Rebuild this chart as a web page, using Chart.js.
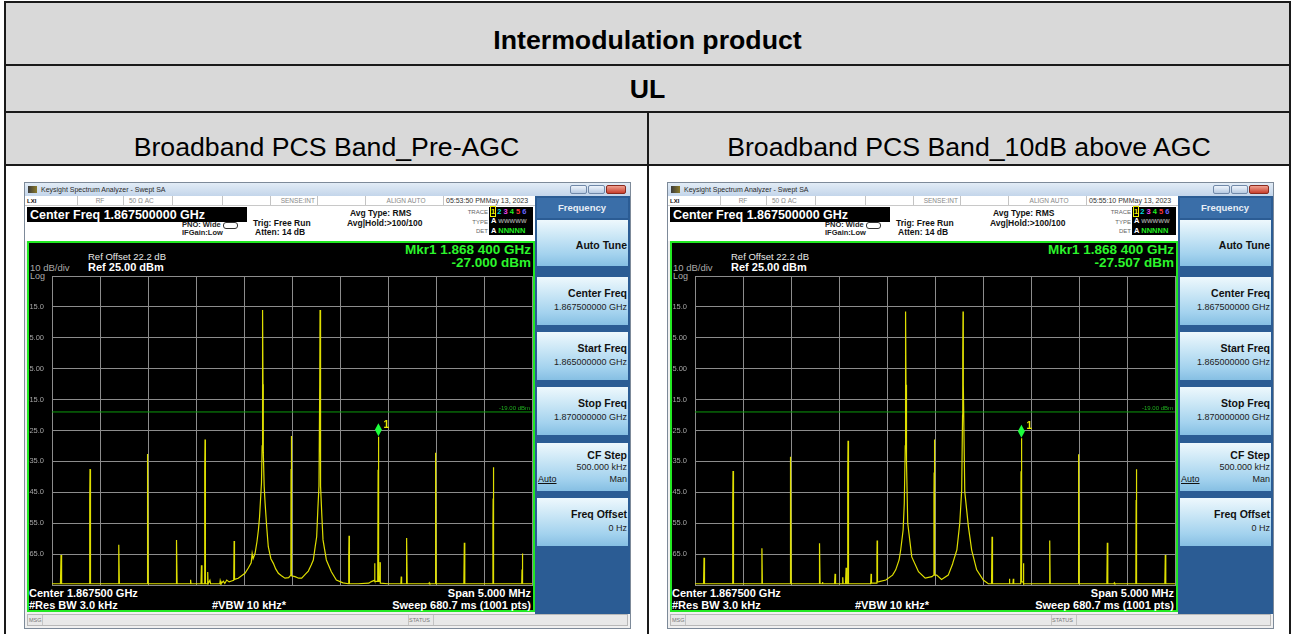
<!DOCTYPE html>
<html>
<head>
<meta charset="utf-8">
<title>Intermodulation product</title>
<script src="https://cdn.jsdelivr.net/npm/chart.js@4.4.1/dist/chart.umd.min.js"></script>
<style>
  body { margin: 0; width: 1295px; height: 634px; overflow: hidden; background: #fff; position: relative;
         font-family: "Liberation Sans", Arial, sans-serif; }
  .abs { position: absolute; white-space: nowrap; }
  .shade { position: absolute; background: #d9d9d9; }
  .rule { position: absolute; background: #1a1a1a; }
  .head { position: absolute; text-align: center; font-size: 26.7px; line-height: 30px; color: #000; }
  .sa { position: absolute; top: 183px; width: 605px; height: 445px; background: #f0f0f0; overflow: hidden;
        box-shadow: 0 0 0 1px #7d8a99; }
  .titlebar { left: 0; top: 0; width: 605px; height: 13px; background: linear-gradient(#e2ecf6, #c3d5ea); }
  .winbtn { top: 2px; height: 9px; border: 1px solid #7088a8; border-radius: 2px; box-sizing: border-box;
            background: linear-gradient(#eef4fb, #b7cae2); }
  .status { left: 0; top: 13px; width: 510px; height: 10px; background: #fff; border-bottom: 1px solid #c8c8c8; box-sizing: border-box; }
  .sep { position: absolute; top: 0; width: 1px; height: 9px; background: #c4c4c4; }
  .info { left: 0; top: 23px; width: 510px; height: 35px; background: #fff; }
  .display { left: 2px; top: 58px; width: 508px; height: 371px; background: #000; border: 2px solid #22e822; box-sizing: border-box; }
  .panel { left: 510px; top: 13px; width: 95px; height: 418px; background: #2b5c94; }
  .key { position: absolute; left: 2px; width: 91px;
         background: linear-gradient(#eef8fd 0%, #cbe7f6 35%, #a3d2ee 75%, #86bfe3 100%); }
  .msgbar { left: 2px; top: 431px; width: 601px; height: 12px; background: #e8e8e8; border: 1px solid #b8b8b8; box-sizing: border-box; }
  canvas { position: absolute; }
</style>
</head>
<body>
<script>
"use strict";

// table headings
const tableTitle = "Intermodulation product";
const linkTitle = "UL";
const panelTitles = ["Broadband PCS Band_Pre-AGC", "Broadband PCS Band_10dB above AGC"];
const timeStamps = ["05:53:50 PM", "05:55:10 PM"];
const dateStamp = "May 13, 2023";

// analyzer settings (MHz / dBm)
const startFreq = 1865.0;
const stopFreq = 1870.0;
const freqStep = 0.5;
const refLevel = 25;
const bottomLevel = -75;
const levelStep = 10;
const displayLine = -19;
const markerFreq = 1868.4;
const markerLevels = [-27.000, -27.507];
const markerTexts = ["-27.000 dBm", "-27.507 dBm"];

const yTickValues = [15, 5, -5, -15, -25, -35, -45, -55, -65];
const yTickLabels = ["15.0", "5.00", "-5.00", "-15.0", "-25.0", "-35.0", "-45.0", "-55.0", "-65.0"];

// trace 1, Pre-AGC
const preAgcFreq = [
  1865.000, 1865.088, 1865.094, 1865.100, 1865.388, 1865.393, 1865.396, 1865.401,
  1865.690, 1865.694, 1865.697, 1865.702, 1865.990, 1865.994, 1865.997, 1866.002,
  1866.292, 1866.296, 1866.298, 1866.303, 1866.440, 1866.444, 1866.448,
  1866.552, 1866.557, 1866.562, 1866.588, 1866.591, 1866.594, 1866.598,
  1866.618, 1866.622, 1866.626, 1866.645, 1866.652, 1866.748, 1866.752, 1866.760,
  1866.785, 1866.800, 1866.820, 1866.845, 1866.870, 1866.893, 1866.897, 1866.901,
  1866.940, 1866.975, 1867.010, 1867.045, 1867.075, 1867.085, 1867.095, 1867.115,
  1867.135, 1867.150, 1867.162, 1867.172, 1867.182, 1867.189, 1867.192, 1867.195,
  1867.198, 1867.201, 1867.210, 1867.220, 1867.236, 1867.253, 1867.280, 1867.306,
  1867.330, 1867.358, 1867.390, 1867.427, 1867.465, 1867.488, 1867.490, 1867.493,
  1867.496, 1867.531, 1867.570, 1867.601, 1867.640, 1867.670, 1867.700, 1867.722,
  1867.742, 1867.757, 1867.770, 1867.781, 1867.789, 1867.792, 1867.795, 1867.800,
  1867.810, 1867.823, 1867.858, 1867.910, 1867.962, 1868.031, 1868.088, 1868.091,
  1868.094, 1868.098, 1868.188, 1868.300, 1868.326, 1868.358, 1868.361, 1868.364,
  1868.393, 1868.397, 1868.400, 1868.404, 1868.414, 1868.417, 1868.420, 1868.500,
  1868.634, 1868.638, 1868.642, 1868.690, 1868.693, 1868.695, 1868.700,
  1868.925, 1868.930, 1868.935, 1868.993, 1868.995, 1868.997, 1869.002,
  1869.290, 1869.295, 1869.300, 1869.590, 1869.593, 1869.595, 1869.597, 1869.602,
  1869.893, 1869.896, 1869.899, 1869.904, 1870.000
];
const preAgcLevel = [
  -74.6, -74.6, -65.3, -74.6, -74.6, -47.6, -37.5, -74.6,
  -74.6, -70.0, -62.0, -74.6, -74.6, -53.0, -32.6, -74.6,
  -74.6, -68.0, -60.4, -74.6, -74.6, -73.3, -74.6,
  -74.6, -68.6, -74.6, -74.6, -38.0, -27.9, -74.6,
  -74.6, -70.8, -74.6, -73.5, -74.6, -74.6, -73.6, -74.6,
  -73.8, -74.5, -73.4, -74.0, -73.7, -73.5, -60.8, -73.2,
  -72.8, -72.0, -71.2, -69.5, -67.8, -64.8, -66.5, -64.8,
  -61.0, -57.2, -53.0, -47.5, -42.0, -30.0, 0.0, 14.0,
  -10.0, -32.0, -43.0, -48.6, -56.0, -62.6, -66.5, -68.0,
  -69.8, -71.2, -72.0, -72.8, -72.6, -71.8, -37.5, -26.8,
  -72.0, -72.3, -72.8, -72.8, -71.5, -70.5, -68.5, -66.9,
  -62.5, -59.4, -50.0, -43.0, -10.0, 14.0, -10.0, -43.0,
  -52.0, -60.4, -66.9, -70.7, -73.4, -74.3, -74.6, -66.0,
  -59.1, -74.6, -74.6, -74.4, -73.9, -73.5, -68.0, -73.8,
  -73.8, -37.7, -27.0, -73.8, -73.8, -67.6, -74.4, -74.6,
  -74.6, -72.3, -74.6, -74.6, -72.0, -59.8, -74.6,
  -74.6, -74.3, -74.6, -74.6, -52.4, -32.2, -74.6,
  -74.6, -61.3, -74.6, -74.6, -57.0, -47.0, -36.9, -74.6,
  -74.6, -70.0, -64.8, -74.6, -74.6
];

// trace 1, 10dB above AGC
const aboveAgcFreq = [
  1865.000, 1865.089, 1865.094, 1865.099, 1865.390, 1865.393, 1865.396, 1865.401,
  1865.692, 1865.697, 1865.702, 1865.990, 1865.993, 1865.995, 1865.997, 1866.002,
  1866.293, 1866.296, 1866.298, 1866.303, 1866.324, 1866.328, 1866.332,
  1866.454, 1866.459, 1866.464, 1866.535, 1866.539, 1866.543, 1866.568, 1866.574, 1866.578,
  1866.587, 1866.590, 1866.592, 1866.594, 1866.599, 1866.830, 1866.834, 1866.838,
  1866.892, 1866.895, 1866.897, 1866.901, 1866.918, 1866.988, 1867.058, 1867.091,
  1867.126, 1867.143, 1867.168, 1867.180, 1867.190, 1867.192, 1867.195, 1867.198,
  1867.203, 1867.216, 1867.258, 1867.328, 1867.398, 1867.468, 1867.488, 1867.489,
  1867.491, 1867.493, 1867.498, 1867.518, 1867.568, 1867.638, 1867.683, 1867.688,
  1867.728, 1867.758, 1867.778, 1867.787, 1867.789, 1867.792, 1867.795, 1867.810,
  1867.848, 1867.882, 1867.934, 1868.003, 1868.055, 1868.089, 1868.094, 1868.099,
  1868.271, 1868.275, 1868.279, 1868.312, 1868.316, 1868.320, 1868.393, 1868.396,
  1868.400, 1868.404, 1868.418, 1868.421, 1868.425, 1868.690, 1868.695, 1868.700,
  1868.992, 1868.995, 1868.997, 1869.002, 1869.290, 1869.295, 1869.300,
  1869.363, 1869.368, 1869.373, 1869.592, 1869.595, 1869.597, 1869.602,
  1869.894, 1869.899, 1869.904, 1870.000
];
const aboveAgcLevel = [
  -74.6, -74.6, -66.2, -74.6, -74.6, -48.6, -38.1, -74.6,
  -74.6, -63.1, -74.6, -74.6, -53.4, -43.7, -33.5, -74.6,
  -74.6, -68.0, -61.5, -74.6, -74.6, -74.0, -74.6,
  -74.6, -71.4, -74.6, -74.6, -72.5, -74.6, -74.6, -69.4, -74.6,
  -74.6, -48.6, -38.6, -28.3, -74.6, -74.6, -71.4, -74.4,
  -74.4, -66.0, -60.6, -74.0, -73.9, -73.4, -71.8, -70.1,
  -66.9, -63.6, -57.2, -48.6, -30.0, -0.5, 13.5, -10.2,
  -35.0, -55.0, -65.9, -70.7, -72.8, -72.3, -71.8, -47.5,
  -38.6, -27.9, -71.8, -71.8, -73.2, -71.8, -68.2, -67.6,
  -63.6, -55.0, -44.3, -20.0, -0.5, 13.5, -10.2, -44.8,
  -56.1, -63.7, -70.1, -73.4, -74.6, -74.6, -59.4, -74.6,
  -74.6, -73.0, -74.6, -74.6, -73.0, -74.6, -74.6, -38.2,
  -27.5, -74.0, -74.0, -68.0, -74.6, -74.6, -60.6, -74.6,
  -74.6, -52.9, -32.7, -74.6, -74.6, -61.3, -74.6,
  -74.6, -74.3, -74.6, -74.6, -47.5, -37.5, -74.6,
  -74.6, -65.3, -74.6, -74.6
];

const softKeys = [
  { top: 94, lines: ["Center Freq", "1.867500000 GHz"] },
  { top: 149, lines: ["Start Freq", "1.865000000 GHz"] },
  { top: 204, lines: ["Stop Freq", "1.870000000 GHz"] },
  { top: 260, lines: ["CF Step", "500.000 kHz"] },
  { top: 315, lines: ["Freq Offset", "0 Hz"] }
];

// ---- table ----
function block(cls, x, y, w, h) {
  const d = document.createElement("div");
  d.className = cls;
  d.style.left = x + "px";
  d.style.top = y + "px";
  d.style.width = w + "px";
  d.style.height = h + "px";
  document.body.appendChild(d);
  return d;
}

block("shade", 6, 3, 1283, 161);
block("rule", 4, 1, 1287, 2);
block("rule", 4, 1, 2, 633);
block("rule", 1289, 1, 2, 633);
block("rule", 4, 64, 1287, 2);
block("rule", 4, 111, 1287, 2);
block("rule", 4, 164, 1287, 2);
block("rule", 647, 111, 2, 523);

let h = block("head", 6, 25, 1283, 30);
h.style.fontWeight = "bold";
h.textContent = tableTitle;
h = block("head", 6, 74, 1283, 30);
h.style.fontWeight = "bold";
h.textContent = linkTitle;
h = block("head", 6, 132, 641, 30);
h.textContent = panelTitles[0];
h = block("head", 649, 132, 640, 30);
h.textContent = panelTitles[1];

// ---- analyzer screenshot ----
function put(sa, text, x, y, css, align) {
  const el = document.createElement("div");
  el.className = "abs";
  el.textContent = text;
  el.style.cssText += css + ";line-height:14px;top:" + (y - 7) + "px;";
  if (align === "right") el.style.right = (605 - x) + "px";
  else if (align === "center") {
    el.style.left = (x - 60) + "px";
    el.style.width = "120px";
    el.style.textAlign = "center";
  } else el.style.left = x + "px";
  sa.appendChild(el);
  return el;
}

function box(sa, cls, css) {
  const d = document.createElement("div");
  d.className = "abs " + cls;
  if (css) d.style.cssText += css;
  sa.appendChild(d);
  return d;
}

function buildAnalyzer(x0, idx) {
  const sa = document.createElement("div");
  sa.className = "sa";
  sa.style.left = x0 + "px";
  document.body.appendChild(sa);

  // title bar
  box(sa, "titlebar");
  box(sa, "", "left:3px;top:3px;width:9px;height:7px;background:linear-gradient(90deg,#3b3b3b,#8a7a2a);");
  put(sa, "Keysight Spectrum Analyzer - Swept SA", 16, 6.5, "font-size:7px;color:#2a2a2a");
  box(sa, "winbtn", "left:545px;width:17px;");
  box(sa, "winbtn", "left:563px;width:17px;");
  box(sa, "winbtn", "left:581px;width:20px;background:linear-gradient(#f0a090,#c8402e);border-color:#8a2a1e;");

  // status row
  const st = box(sa, "status");
  [52, 98, 147, 197, 245, 292, 340, 418].forEach(x => {
    const s = document.createElement("div");
    s.className = "sep";
    s.style.left = x + "px";
    st.appendChild(s);
  });
  put(sa, "LXI", 2, 18, "font:bold 6px 'Liberation Sans';color:#111");
  put(sa, "RF", 75, 18, "font-size:6.5px;color:#888", "center");
  put(sa, "50 \u03a9   AC", 104, 18, "font-size:6.5px;color:#888");
  put(sa, "SENSE:INT", 290, 18, "font-size:6.5px;color:#888", "right");
  put(sa, "ALIGN AUTO", 381, 18, "font-size:6.5px;color:#888", "center");
  put(sa, timeStamps[idx] + dateStamp, 421, 18, "font-size:7px;color:#333");

  // info area
  box(sa, "info");
  box(sa, "", "left:2px;top:24px;width:220px;height:15px;background:#000;");
  put(sa, "Center Freq 1.867500000 GHz", 5, 31.5, "font:bold 12.5px 'Liberation Sans';color:#fff");
  put(sa, "PNO: Wide", 157, 42, "font:bold 7.5px 'Liberation Sans';color:#222");
  box(sa, "", "left:198px;top:39px;width:13px;height:5px;border:1px solid #333;border-radius:3px;");
  put(sa, "IFGain:Low", 157, 50, "font:bold 7.5px 'Liberation Sans';color:#222");
  put(sa, "Trig: Free Run", 228, 40, "font:bold 8.5px 'Liberation Sans';color:#111");
  put(sa, "Atten: 14 dB", 230, 49, "font:bold 8.5px 'Liberation Sans';color:#111");
  put(sa, "Avg Type: RMS", 325, 30, "font:bold 8.5px 'Liberation Sans';color:#111");
  put(sa, "Avg|Hold:>100/100", 322, 40, "font:bold 8.5px 'Liberation Sans';color:#111");
  put(sa, "TRACE", 463, 29, "font-size:6px;color:#666", "right");
  put(sa, "TYPE", 463, 38.5, "font-size:6px;color:#666", "right");
  put(sa, "DET", 463, 47.5, "font-size:6px;color:#666", "right");
  const tb = box(sa, "", "left:464px;top:24px;width:44px;height:28px;background:#000;font:bold 7.5px 'Liberation Sans';line-height:9px;padding-left:2px;box-sizing:border-box;");
  tb.innerHTML =
    '<div><span style="color:#ee0;outline:1px solid #ee0">1</span> <span style="color:#0dd">2</span> ' +
    '<span style="color:#e4e">3</span> <span style="color:#2e2">4</span> <span style="color:#f33">5</span> ' +
    '<span style="color:#66f">6</span></div>' +
    '<div><span style="color:#fff">A</span> <span style="color:#999;font-size:6px">WWWWW</span></div>' +
    '<div><span style="color:#fff">A</span> <span style="color:#2e2">NNNNN</span></div>';

  // soft key panel
  const pn = box(sa, "panel");
  const hdr = document.createElement("div");
  hdr.className = "abs";
  hdr.style.cssText = "left:2px;top:2px;width:91px;height:20px;background:#3a6ea8;";
  pn.appendChild(hdr);
  put(sa, "Frequency", 557, 25, "font:bold 9.5px 'Liberation Sans';color:#e8eef6", "center");
  const at = document.createElement("div");
  at.className = "key";
  at.style.top = "24px";
  at.style.height = "46px";
  pn.appendChild(at);
  put(sa, "Auto Tune", 602, 62, "font:bold 10.5px 'Liberation Sans';color:#111", "right");
  softKeys.forEach(k => {
    const b = document.createElement("div");
    b.className = "key";
    b.style.top = (k.top - 13) + "px";
    b.style.height = "48px";
    pn.appendChild(b);
    put(sa, k.lines[0], 602, k.top + (k.lines[0] === "CF Step" ? 12 : 16), "font:bold 10.5px 'Liberation Sans';color:#111", "right");
    put(sa, k.lines[1], 602, k.top + (k.lines[0] === "CF Step" ? 24 : 30), "font-size:9px;color:#222", "right");
  });
  put(sa, "Auto", 513, 296, "font-size:9px;color:#111;text-decoration:underline");
  put(sa, "Man", 602, 296, "font-size:9px;color:#222", "right");

  // display
  box(sa, "display");
  put(sa, "Ref Offset 22.2 dB", 63, 73.7, "font-size:9.5px;color:#e8e8e8");
  put(sa, "10 dB/div", 5, 84.7, "font-size:9.5px;color:#aaa");
  put(sa, "Ref 25.00 dBm", 63, 84, "font:bold 11px 'Liberation Sans';color:#fff");
  put(sa, "Log", 5, 92.5, "font-size:9px;color:#aaa");
  put(sa, "Mkr1 1.868 400 GHz", 506, 67, "font:bold 13.5px 'Liberation Sans';color:#2cf52c", "right");
  put(sa, markerTexts[idx], 506, 80, "font:bold 13.5px 'Liberation Sans';color:#2cf52c", "right");
  put(sa, "Center 1.867500 GHz", 4, 410, "font:bold 11px 'Liberation Sans';color:#fff");
  put(sa, "#Res BW 3.0 kHz", 4, 422, "font:bold 11px 'Liberation Sans';color:#fff");
  put(sa, "#VBW 10 kHz*", 187, 422, "font:bold 11px 'Liberation Sans';color:#fff");
  put(sa, "Span 5.000 MHz", 506, 410, "font:bold 11px 'Liberation Sans';color:#fff", "right");
  put(sa, "Sweep  680.7 ms (1001 pts)", 506, 422, "font:bold 11px 'Liberation Sans';color:#fff", "right");

  // message bar
  const mb = box(sa, "msgbar");
  [14, 380, 405].forEach(x => {
    const s = document.createElement("div");
    s.className = "sep";
    s.style.left = x + "px";
    s.style.height = "10px";
    mb.appendChild(s);
  });
  put(sa, "MSG", 4, 437, "font-size:5.5px;color:#777");
  put(sa, "STATUS", 384, 437, "font-size:5.5px;color:#777");

  // trace canvas
  const cv = document.createElement("canvas");
  cv.width = 505;
  cv.height = 320;
  cv.style.left = "4px";
  cv.style.top = "87px";
  cv.style.width = "505px";
  cv.style.height = "320px";
  sa.appendChild(cv);
  return cv;
}

function makeChart(cv, freqs, levels, mkrLevel) {
  const trace = freqs.map((f, i) => ({ x: f, y: levels[i] }));
  const dl = [{ x: startFreq, y: displayLine }, { x: stopFreq, y: displayLine }];

  const markerPlugin = {
    id: "marker",
    afterDatasetsDraw: chart => {
      const { ctx, chartArea, scales } = chart;
      const ly = scales.y.getPixelForValue(displayLine);
      ctx.save();
      ctx.fillStyle = "#1fae1f";
      ctx.font = "6px 'Liberation Sans'";
      ctx.textAlign = "right";
      ctx.fillText(displayLine.toFixed(2) + " dBm", chartArea.right - 2, ly - 2);

      const px = scales.x.getPixelForValue(markerFreq);
      const cy = scales.y.getPixelForValue(mkrLevel) - 7;
      ctx.fillStyle = "#1cff3c";
      ctx.beginPath();
      ctx.moveTo(px, cy - 6.5);
      ctx.lineTo(px + 3.5, cy);
      ctx.lineTo(px, cy + 6.5);
      ctx.lineTo(px - 3.5, cy);
      ctx.closePath();
      ctx.fill();
      ctx.fillStyle = "#e8e800";
      ctx.font = "bold 10px 'Liberation Sans'";
      ctx.textAlign = "left";
      ctx.fillText("1", px + 5, cy - 2);
      ctx.restore();
    }
  };

  const gridColor = "#8c8c8c";
  return new Chart(cv.getContext("2d"), {
    type: "line",
    data: {
      datasets: [
        { data: trace, borderColor: "#dede00", borderWidth: 1.2, pointRadius: 0, tension: 0 },
        { data: dl, borderColor: "#0b9a0b", borderWidth: 1, pointRadius: 0 }
      ]
    },
    options: {
      responsive: false,
      animation: false,
      events: [],
      layout: { padding: { top: 6, right: 2, bottom: 5, left: 0 } },
      plugins: { legend: { display: false }, tooltip: { enabled: false } },
      scales: {
        x: {
          type: "linear",
          min: startFreq,
          max: stopFreq,
          ticks: { stepSize: freqStep, display: false },
          grid: { color: gridColor, lineWidth: 1, drawTicks: false },
          border: { color: gridColor, width: 1 },
          afterFit: s => {
            s.height = 0;
            s.paddingLeft = 0;
            s.paddingRight = 0;
          }
        },
        y: {
          min: bottomLevel,
          max: refLevel,
          ticks: {
            stepSize: levelStep,
            autoSkip: false,
            padding: 8,
            color: "#a6a6a6",
            font: { family: "'Liberation Sans', Arial", size: 7.5 },
            callback: v => {
              const i = yTickValues.indexOf(v);
              return i < 0 ? "" : yTickLabels[i];
            }
          },
          grid: { color: gridColor, lineWidth: 1, drawTicks: false },
          border: { color: gridColor, width: 1 },
          afterFit: s => {
            s.width = 23;
            s.paddingTop = 0;
            s.paddingBottom = 0;
          }
        }
      }
    },
    plugins: [markerPlugin]
  });
}

const cvPre = buildAnalyzer(25, 0);
const cvAbove = buildAnalyzer(668, 1);
makeChart(cvPre, preAgcFreq, preAgcLevel, markerLevels[0]);
makeChart(cvAbove, aboveAgcFreq, aboveAgcLevel, markerLevels[1]);
</script>
</body>
</html>
